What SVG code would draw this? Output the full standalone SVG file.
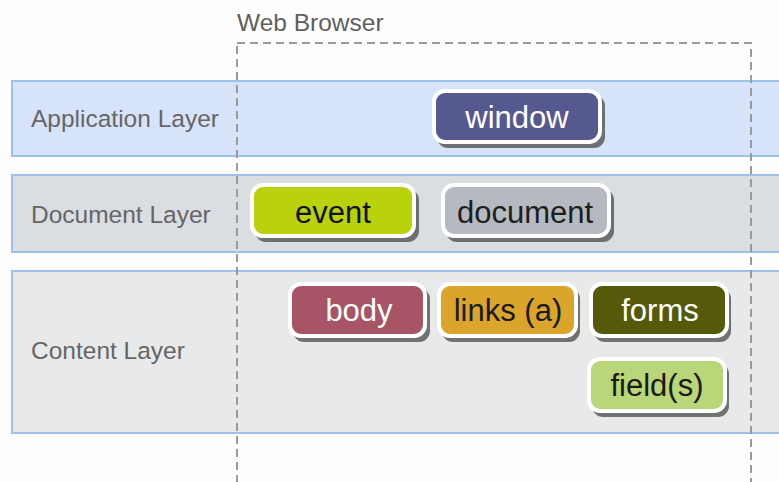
<svg xmlns="http://www.w3.org/2000/svg" width="779" height="482" viewBox="0 0 779 482">
<style>
.band{stroke:#9cc2ea;stroke-width:2}
.lbl{font-family:"Liberation Sans",Arial,sans-serif;font-size:24.5px;fill:#666666}
.nt{font-family:"Liberation Sans",Arial,sans-serif;font-size:31px;text-anchor:middle}
.sh{fill:#4a4a4a;opacity:0.75}
.box{stroke:#ffffff;stroke-width:4}
</style>
<rect width="779" height="482" fill="#fdfdfd"/>
<g id="layers">
<rect class="band" x="12" y="81" width="780" height="75" fill="#d7e3f8"/>
<rect class="band" x="12" y="175" width="780" height="77" fill="#dadde2"/>
<rect class="band" x="12" y="271" width="780" height="162" fill="#e8e9eb"/>
<text class="lbl" x="31" y="127">Application Layer</text>
<text class="lbl" x="31" y="223">Document Layer</text>
<text class="lbl" x="31" y="359">Content Layer</text>
</g>
<g id="browser">
<rect x="237" y="43" width="514" height="460" fill="none" stroke="#9a9a9a" stroke-width="2" stroke-dasharray="8,5"/>
<text class="lbl" x="237" y="31" style="fill:#5f5f5f">Web Browser</text>
</g>
<g id="window">
<rect class="sh" x="437" y="95" width="168" height="53" rx="11"/>
<rect class="box" x="434" y="91" width="166" height="51" rx="11" fill="#56598f"/>
<text class="nt" x="517" y="128" fill="#ffffff">window</text>
</g>
<g id="event">
<rect class="sh" x="255" y="189" width="164" height="53" rx="11"/>
<rect class="box" x="252" y="185" width="162" height="51" rx="11" fill="#bad20c"/>
<text class="nt" x="333" y="223" fill="#111111">event</text>
</g>
<g id="document">
<rect class="sh" x="446" y="189" width="168" height="53" rx="11"/>
<rect class="box" x="443" y="185" width="166" height="51" rx="11" fill="#b6b9bf"/>
<text class="nt" x="525" y="223" fill="#1e1e1e">document</text>
</g>
<g id="body">
<rect class="sh" x="293" y="288" width="137" height="54" rx="11"/>
<rect class="box" x="290" y="284" width="135" height="52" rx="11" fill="#a65466"/>
<text class="nt" x="359" y="321" fill="#ffffff">body</text>
</g>
<g id="links">
<rect class="sh" x="442" y="288" width="138" height="54" rx="11"/>
<rect class="box" x="439" y="284" width="137" height="52" rx="11" fill="#dba52b"/>
<text class="nt" x="508" y="321" fill="#1a1a1a">links (a)</text>
</g>
<g id="forms">
<rect class="sh" x="594" y="288" width="137" height="54" rx="11"/>
<rect class="box" x="591" y="284" width="136" height="52" rx="11" fill="#545a09"/>
<text class="nt" x="660" y="321" fill="#ffffff">forms</text>
</g>
<g id="fields">
<rect class="sh" x="592" y="363" width="137" height="54" rx="11"/>
<rect class="box" x="589" y="359" width="136" height="52" rx="11" fill="#b9d679"/>
<text class="nt" x="657" y="396" fill="#1a1a1a">field(s)</text>
</g>
<g id="connectors"></g>
</svg>
